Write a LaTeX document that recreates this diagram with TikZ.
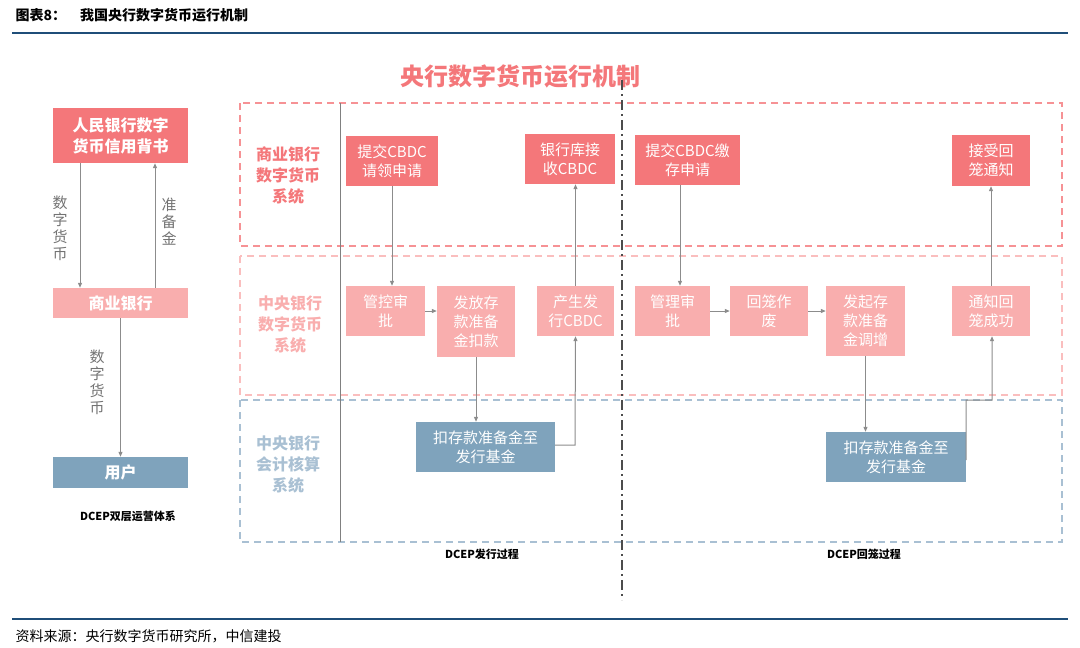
\documentclass[tikz,border=0pt]{standalone}
\usepackage{fontspec}
\setmainfont{Noto Sans CJK SC}
\usetikzlibrary{arrows.meta,positioning}
\definecolor{darkpink}{HTML}{F4777A}
\definecolor{lightpink}{HTML}{F9AEAE}
\definecolor{steelblue}{HTML}{7FA3BC}
\definecolor{lineblue}{HTML}{1F4E79}
\definecolor{dashblue}{HTML}{A9C0D3}
\tikzset{
  darkbox/.style={fill=darkpink,text=white,align=center,font=\fontsize{15}{19}\selectfont,inner sep=0pt},
  lightbox/.style={fill=lightpink,text=white,align=center,font=\fontsize{15}{19}\selectfont,inner sep=0pt},
  bluebox/.style={fill=steelblue,text=white,align=center,font=\fontsize{15}{19}\selectfont,inner sep=0pt},
  flow/.style={draw=black!45,line width=1pt,-{Triangle[length=5pt,width=4pt]}},
  rowlabel/.style={align=center,font=\bfseries\fontsize{16}{21}\selectfont}
}
\begin{document}
\begin{tikzpicture}[x=1pt,y=-1pt]
        \useasboundingbox (0,0) rectangle (1080,648);
        % header and footer
        \node[anchor=west,font=\bfseries\fontsize{14}{16}\selectfont] (head) at (12,15) {图表8：\quad 我国央行数字货币运行机制};
        \draw [lineblue,line width=2pt] (12,33) -- (1068,33);
        \draw [lineblue,line width=1.2pt] (12,619) -- (1068,619);
        \node[anchor=west,font=\itshape\fontsize{14}{16}\selectfont] (src) at (12,636) {资料来源：央行数字货币研究所，中信建投};
        \node[text=darkpink,font=\bfseries\fontsize{24}{28}\selectfont] (title) at (520,76) {央行数字货币运行机制};
        %
        % left part
        \node[darkbox,minimum width=135,minimum height=55,font=\bfseries\fontsize{16}{21}\selectfont] (pboc) at (120.5,135.5) {人民银行数字\\货币信用背书};
        \node[lightbox,minimum width=135,minimum height=30,font=\bfseries\fontsize{16}{21}\selectfont] (cb) at (120.5,303) {商业银行};
        \node[bluebox,minimum width=135,minimum height=31,font=\bfseries\fontsize{16}{21}\selectfont] (user) at (120.5,472.5) {用户};
        \node[font=\bfseries\fontsize{11}{13}\selectfont] (dual) at (128,516) {DCEP双层运营体系};
        \draw [flow] (pboc.south -| 80,0) -- (cb.north -| 80,0);
        \draw [flow] (cb.north -| 155,0) -- (pboc.south -| 155,0);
        \draw [flow] (cb.south) -- (user.north);
        \node[text=black!55,align=center,font=\fontsize{15}{17}\selectfont] (l1) at (60,228) {数\\字\\货\\币};
        \node[text=black!55,align=center,font=\fontsize{15}{17}\selectfont] (l2) at (169,222) {准\\备\\金};
        \node[text=black!55,align=center,font=\fontsize{15}{17}\selectfont] (l3) at (97,382) {数\\字\\货\\币};
        %
        % lanes
        \draw [darkpink!80,dash pattern=on 7pt off 5pt,line width=1.5pt] (240,103) rectangle (1062,246);
        \draw [lightpink!80,dash pattern=on 7pt off 5pt,line width=1.5pt] (240,256) rectangle (1062,395);
        \draw [dashblue,dash pattern=on 7pt off 5pt,line width=1.5pt] (240,400) rectangle (1062,542);
        \draw [black!50,line width=1pt] (340,103) -- (340,542);
        \draw [black!70,line width=2pt,dash pattern=on 10pt off 4pt on 2pt off 4pt] (622,80) -- (622,600);
        \node[rowlabel,text=darkpink] (r1) at (288,175) {商业银行\\数字货币\\系统};
        \node[rowlabel,text=lightpink] (r2) at (290,325) {中央银行\\数字货币\\系统};
        \node[rowlabel,text=dashblue] (r3) at (288,465) {中央银行\\会计核算\\系统};
        \node[font=\bfseries\fontsize{11}{13}\selectfont] (issue) at (482,554) {DCEP发行过程};
        \node[font=\bfseries\fontsize{11}{13}\selectfont] (back) at (864,554) {DCEP回笼过程};
        %
        % issue process
        \node[darkbox,minimum width=92,minimum height=50] (b1) at (392,161) {提交CBDC\\请领申请};
        \node[darkbox,minimum width=90,minimum height=50] (b2) at (570,159) {银行库接\\收CBDC};
        \node[lightbox,minimum width=79,minimum height=50] (c1) at (385.5,311) {管控审\\批};
        \node[lightbox,minimum width=78,minimum height=71] (c2) at (476,321.5) {发放存\\款准备\\金扣款};
        \node[lightbox,minimum width=77,minimum height=50] (c3) at (575.5,311) {产生发\\行CBDC};
        \node[bluebox,minimum width=139,minimum height=50] (d1) at (485.5,447) {扣存款准备金至\\发行基金};
        \draw [flow] (b1.south -| 392,0) -- (c1.north -| 392,0);
        \draw [flow] (c1.east) -- (c2.west |- c1.east);
        \draw [flow] (c2.south) -- (d1.north -| c2.south);
        \draw [flow] (d1.east |- 0,445) -- (575,445) -- (c3.south);
        \draw [flow] (c3.north) -- (b2.south -| c3.north);
        %
        % return process
        \node[darkbox,minimum width=105,minimum height=50] (b3) at (687.5,160) {提交CBDC缴\\存申请};
        \node[darkbox,minimum width=78,minimum height=51] (b4) at (991,160.5) {接受回\\笼通知};
        \node[lightbox,minimum width=75,minimum height=50] (c4) at (672.5,311) {管理审\\批};
        \node[lightbox,minimum width=78,minimum height=50] (c5) at (769,311) {回笼作\\废};
        \node[lightbox,minimum width=79,minimum height=70] (c6) at (865.5,321) {发起存\\款准备\\金调增};
        \node[lightbox,minimum width=78,minimum height=50] (c7) at (991,311) {通知回\\笼成功};
        \node[bluebox,minimum width=140,minimum height=50] (d2) at (896,457) {扣存款准备金至\\发行基金};
        \draw [flow] (b3.south -| 680,0) -- (c4.north -| 680,0);
        \draw [flow] (c4.east) -- (c5.west);
        \draw [flow] (c5.east) -- (c6.west |- c5.east);
        \draw [flow] (c6.south) -- (d2.north -| c6.south);
        \draw [flow] (d2.east |- 0,460) -- (966,400) -- (992,400) -- (c7.south -| 992,0);
        \draw [flow] (c7.north) -- (b4.south);
\end{tikzpicture}
\end{document}
